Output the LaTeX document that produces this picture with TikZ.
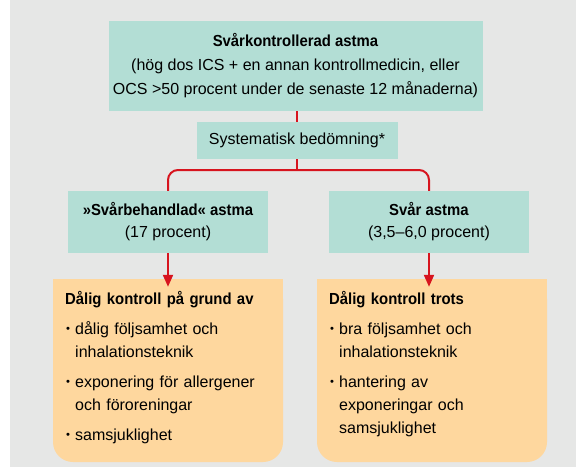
\documentclass[tikz,border=0pt]{standalone}
\usepackage{fontspec}
\setmainfont{Liberation Sans}[BoldFeatures={FakeStretch=0.93}]
\usetikzlibrary{arrows.meta}
\definecolor{bgc}{HTML}{E6E7E6}
\definecolor{mint}{HTML}{B3DED5}
\definecolor{peach}{HTML}{FED79E}
\definecolor{redc}{HTML}{D7141E}
\newcommand{\bul}[1]{\par\vspace{7pt}\noindent\makebox[10pt][l]{\hspace{1pt}\raisebox{1.5pt}{\scalebox{0.7}{•}}}\parbox[t]{200pt}{\raggedright #1\strut}\par\prevdepth=\dp\strutbox\relax}
\begin{document}
\begin{tikzpicture}[x=1pt,y=-1pt,
  box/.style={fill=mint, inner sep=0pt, align=center, font=\fontsize{16}{22}\selectfont},
  peachbox/.style={fill=peach, inner sep=0pt, rounded corners=20pt, minimum width=230pt, minimum height=183pt},
  conn/.style={draw=redc, line width=2pt},
  arr/.style={conn, -{Triangle[length=12pt,width=10pt]}},
  listtxt/.style={anchor=north west, inner sep=0pt, text width=215pt, align=left, font=\fontsize{16}{23}\selectfont}]
\useasboundingbox (0,0) rectangle (576,467);
\fill[bgc] (10,0) rectangle (576,467);
\node[box, minimum width=374pt, minimum height=90pt, font=\fontsize{16}{24}\selectfont] (top) at (295.5,66)
  {\textbf{Svårkontrollerad astma}\\(hög dos ICS + en annan kontrollmedicin, eller\\OCS >50 procent under de senaste 12 månaderna)};
\node[box, minimum width=201pt, minimum height=37pt] (sys) at (297,140.5) {Systematisk bedömning*};
\node[box, minimum width=200pt, minimum height=62pt] (lm) at (168,222) {\textbf{»Svårbehandlad« astma}\\(17 procent)};
\node[box, minimum width=200pt, minimum height=62pt] (rm) at (429,222) {\textbf{Svår astma}\\(3,5–6,0 procent)};
\node[peachbox] (lo) at (168,370.5) {};
\node[peachbox] (ro) at (432,370.5) {};
\fill[peach] (lo.north west) rectangle ([yshift=-30pt]lo.north east);
\fill[peach] (ro.north west) rectangle ([yshift=-30pt]ro.north east);
\node[listtxt] (lot) at (65,291) {\parindent=0pt\textbf{Dålig kontroll på grund av}
  \bul{dålig följsamhet och\\inhalationsteknik}
  \bul{exponering för allergener\\och föroreningar}
  \bul{samsjuklighet}};
\node[listtxt] (rot) at (329,291) {\parindent=0pt\textbf{Dålig kontroll trots}
  \bul{bra följsamhet och\\inhalationsteknik}
  \bul{hantering av\\exponeringar och\\samsjuklighet}};
\coordinate (tb) at (sys.north |- top.south);
\coordinate (br) at (sys.south |- {(0,170)});
\coordinate (ltop) at (lm.south |- lo.north);
\coordinate (rtop) at (rm.south |- ro.north);
\coordinate (lta) at ([yshift=-8pt]ltop);
\coordinate (rta) at ([yshift=-8pt]rtop);
\draw[conn] (tb) -- (sys.north);
\draw[conn] (sys.south) -- (br);
\draw[conn, rounded corners=10pt] (lm.north) -- (lm.north |- br) -- (rm.north |- br) -- (rm.north);
\draw[arr] (lm.south) -- (lta);
\draw[arr] (rm.south) -- (rta);
\end{tikzpicture}
\end{document}
